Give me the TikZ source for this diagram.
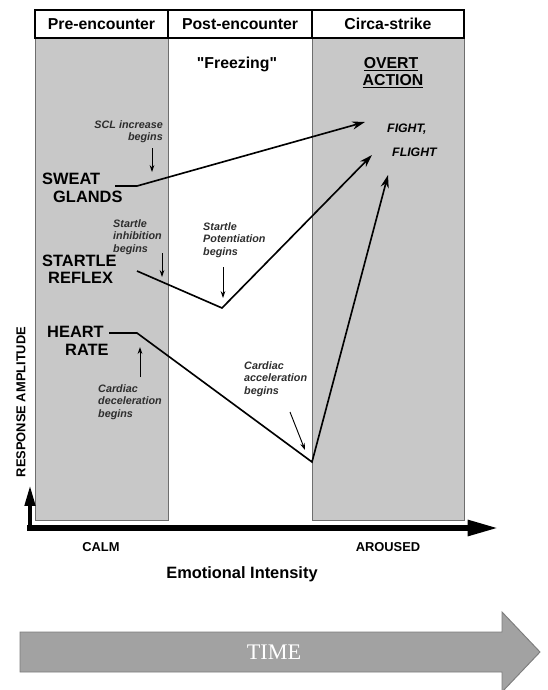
\documentclass[tikz,border=0pt]{standalone}
\usepackage{fontspec}
\setmainfont{Liberation Sans}
\newfontfamily\straightfont{Liberation Sans}[Ligatures=TeXOff]
\newfontfamily\timefont{Liberation Serif}
\usetikzlibrary{arrows.meta}
\definecolor{colgray}{RGB}{200,200,200}
\definecolor{coledge}{RGB}{110,110,110}
\definecolor{timegray}{RGB}{162,162,162}
\definecolor{timeedge}{RGB}{125,125,125}
\definecolor{notegray}{RGB}{45,45,45}
\tikzset{
  hdr/.style={font=\fontsize{13.5}{15}\selectfont\bfseries, inner sep=0pt},
  biglabel/.style={font=\fontsize{14}{16}\selectfont\bfseries, inner sep=0pt, anchor=west},
  fightlabel/.style={font=\fontsize{10.5}{12}\selectfont\bfseries\itshape, inner sep=0pt, anchor=west},
  note/.style={font=\fontsize{9.2}{11}\selectfont\bfseries\itshape, text=notegray, inner sep=0pt},
  axislabel/.style={font=\fontsize{11}{13}\selectfont\bfseries, inner sep=0pt},
  resp/.style={line width=1.4pt, line join=miter, -{Stealth[length=11pt,width=7pt]}},
  cue/.style={line width=0.8pt, -{Stealth[length=6pt,width=4pt]}},
  colbox/.style={fill=colgray, draw=coledge, line width=0.6pt}
}
\begin{document}
\begin{tikzpicture}[x=0.03cm,y=-0.03cm]
\useasboundingbox (0,0) rectangle (547,690);
\clip (0,0) rectangle (547,690);
\draw [colbox] (35,38) rectangle (168,520);
\draw [colbox] (312,38) rectangle (464,520);
\draw [line width=0.9pt] (35,10) rectangle (464,38);
\draw [line width=0.9pt] (168,10) -- (168,38);
\draw [line width=0.9pt] (312,10) -- (312,38);
\node [hdr] (pre) at (101.5,24) {Pre-encounter};
\node [hdr] (post) at (240,24) {Post-encounter};
\node [hdr] (circa) at (388,24) {Circa-strike};
\node [hdr] (freeze) at (237,64) {\straightfont\bfseries "Freezing"};
\node [hdr, anchor=base] (overt) at (391,68) {\underline{OVERT}};
\node [hdr, anchor=base] (action) at (393,85) {\underline{ACTION}};
\node [fightlabel] (fight) at (387,129) {FIGHT,};
\node [fightlabel] (flight) at (392,152) {FLIGHT};
\node [biglabel] (sweat) at (42,179) {SWEAT};
\node [biglabel] (glands) at (53,197) {GLANDS};
\node [biglabel] (startle) at (42,261) {STARTLE};
\node [biglabel] (reflex) at (48,278) {REFLEX};
\node [biglabel] (heart) at (47,332) {HEART};
\node [biglabel] (rate) at (65,350) {RATE};
\node [note, anchor=north east, align=right] (scl) at (163,120) {SCL increase\\begins};
\node [note, anchor=north west, align=left] (inhib) at (113,219) {Startle\\inhibition\\begins};
\node [note, anchor=north west, align=left] (potent) at (203,222) {Startle\\Potentiation\\begins};
\node [note, anchor=north west, align=left] (decel) at (98,384) {Cardiac\\deceleration\\begins};
\node [note, anchor=north west, align=left] (accel) at (244,361) {Cardiac\\acceleration\\begins};
\coordinate (sw0) at (115,186);
\coordinate (sw1) at (137,186);
\coordinate (sw2) at (365,122);
\coordinate (st0) at (137,271);
\coordinate (st1) at (222,308);
\coordinate (st2) at (372,155);
\coordinate (hr0) at (109,333);
\coordinate (hr1) at (137,333);
\coordinate (hr2) at (312,462);
\coordinate (hr3) at (388,175);
\draw [resp] (sw0) -- (sw1) -- (sw2);
\draw [resp] (st0) -- (st1) -- (st2);
\draw [resp] (hr0) -- (hr1) -- (hr2) -- (hr3);
\coordinate (scl0) at (152,148);
\coordinate (scl1) at (152,172);
\coordinate (inh0) at (162,253);
\coordinate (inh1) at (162,277);
\coordinate (pot0) at (223,267);
\coordinate (pot1) at (223,298);
\coordinate (dec0) at (140,377);
\coordinate (dec1) at (140,347);
\coordinate (acc0) at (290,412);
\coordinate (acc1) at (305,450);
\draw [cue] (scl0) -- (scl1);
\draw [cue] (inh0) -- (inh1);
\draw [cue] (pot0) -- (pot1);
\draw [cue] (dec0) -- (dec1);
\draw [cue] (acc0) -- (acc1);
\coordinate (origin) at (30,528);
\coordinate (ytip) at (30,486);
\coordinate (xstart) at (27,528);
\coordinate (xtip) at (498,528);
\draw [line width=2.6pt, -{Triangle[length=17pt,width=9pt]}] ([yshift=-2pt]origin) -- (ytip);
\draw [line width=4.5pt, -{Triangle[length=26pt,width=13pt]}] (xstart) -- (xtip);
\node [axislabel, rotate=90] (ampl) at (21,402) {RESPONSE AMPLITUDE};
\node [axislabel] (calm) at (101,547) {CALM};
\node [axislabel] (aroused) at (388,547) {AROUSED};
\node [font=\fontsize{14}{16}\selectfont\bfseries, inner sep=0pt] (intensity) at (242,574) {Emotional Intensity};
\draw [fill=timegray, draw=timeedge, line width=0.8pt] (20,632) -- (502,632) -- (502,612) -- (540,652) -- (502,692) -- (502,672) -- (20,672) -- cycle;
\node [font=\timefont\fontsize{19}{21}\selectfont, text=white, inner sep=0pt] (time) at (274,652) {TIME};
\end{tikzpicture}
\end{document}
